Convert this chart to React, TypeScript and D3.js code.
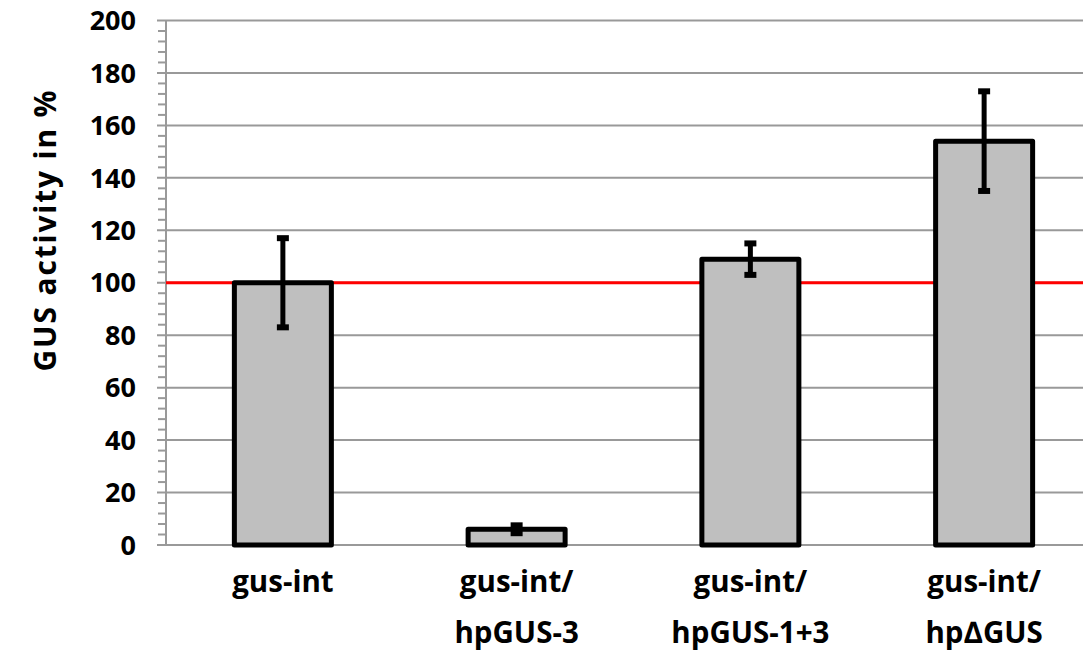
import React from "react";
import * as d3 from "d3";

const categories = [
  ["gus-int"],
  ["gus-int/", "hpGUS-3"],
  ["gus-int/", "hpGUS-1+3"],
  ["gus-int/", "hp\u2206GUS"],
];
const activity = [100, 6, 109, 154];
const errors = [17, 1.5, 6, 19];
const yTicks = [0, 20, 40, 60, 80, 100, 120, 140, 160, 180, 200];

export default function App() {
  const width = 1083;
  const height = 655;
  const left = 166;
  const top = 20.5;
  const bottom = 545;
  const right = 1101; // plot runs past the picture edge

  const x = d3.scaleBand<number>()
    .domain(d3.range(categories.length))
    .range([left, right])
    .paddingInner(0.585)
    .paddingOuter(0.2925);
  const y = d3.scaleLinear().domain([0, 200]).range([bottom, top]);
  const minor = d3.range(0, 201, 4).filter((v) => v % 20 !== 0);

  const font = "'Open Sans', 'DejaVu Sans', sans-serif";
  const capW = 12;

  return (
    <svg width={width} height={height} style={{ position: "absolute", left: 0, top: 0 }}>
      <rect width={width} height={height} fill="white" />
      {yTicks.map((t) => (
        <g key={t}>
          <line x1={157} x2={right} y1={y(t)} y2={y(t)} stroke="#999" strokeWidth={2} />
          <text x={136} y={y(t)} dy="0.36em" textAnchor="end" fontFamily={font}
            fontWeight="bold" fontSize={27} fill="#000">{t}</text>
        </g>
      ))}
      {minor.map((t) => (
        <line key={t} x1={158} x2={166} y1={y(t)} y2={y(t)} stroke="#999" strokeWidth={2} />
      ))}
      <line x1={left} x2={left} y1={top} y2={bottom} stroke="#999" strokeWidth={2} />
      <line x1={left} x2={right} y1={y(100)} y2={y(100)} stroke="#ff0000" strokeWidth={3} />
      {activity.map((v, i) => {
        const bx = x(i)!;
        const cx = bx + x.bandwidth() / 2;
        const e = errors[i];
        return (
          <g key={i}>
            <rect x={bx} y={y(v)} width={x.bandwidth()} height={y(0) - y(v)}
              fill="#bfbfbf" stroke="#000" strokeWidth={5} strokeLinejoin="round" />
            <line x1={cx} x2={cx} y1={y(v + e)} y2={y(v - e)} stroke="#000" strokeWidth={5} />
            <line x1={cx - capW / 2} x2={cx + capW / 2} y1={y(v + e)} y2={y(v + e)}
              stroke="#000" strokeWidth={6} />
            <line x1={cx - capW / 2} x2={cx + capW / 2} y1={y(v - e)} y2={y(v - e)}
              stroke="#000" strokeWidth={6} />
          </g>
        );
      })}
      {categories.map((lines, i) => (
        <text key={i} x={x(i)! + x.bandwidth() / 2} y={592} textAnchor="middle"
          fontFamily={font} fontWeight="bold" fontSize={29.5} fill="#000">
          {lines.map((l, j) => (
            <tspan key={j} x={x(i)! + x.bandwidth() / 2} dy={j === 0 ? 0 : 51}>{l}</tspan>
          ))}
        </text>
      ))}
      <text transform={`translate(56,230) rotate(-90)`} textAnchor="middle"
        fontFamily={font} fontWeight="bold" fontSize={30} letterSpacing={1.8}
        fill="#000">GUS activity in %</text>
    </svg>
  );
}
